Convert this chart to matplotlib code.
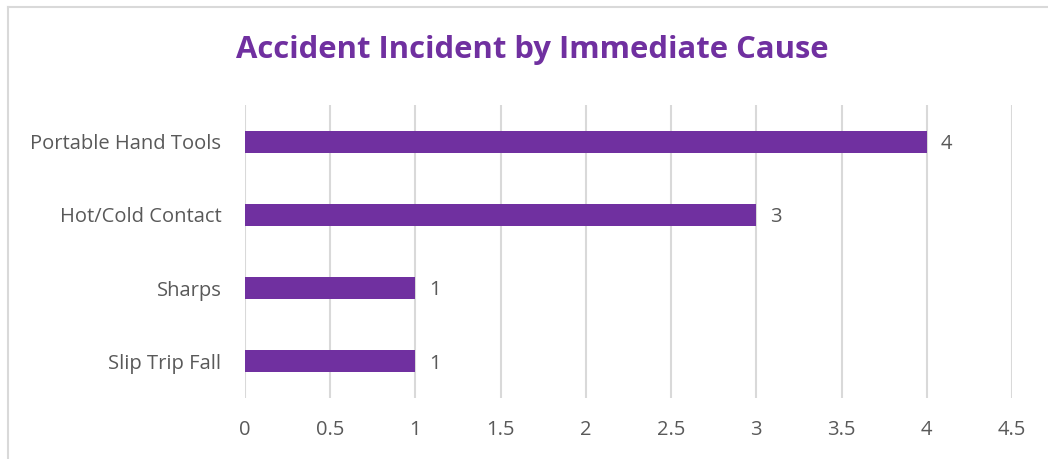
import matplotlib
matplotlib.use("Agg")
import matplotlib.pyplot as plt
from matplotlib.lines import Line2D

categories = ["Slip Trip Fall", "Sharps", "Hot/Cold Contact", "Portable Hand Tools"]
values = [1, 1, 3, 4]
xticks = [0, 0.5, 1, 1.5, 2, 2.5, 3, 3.5, 4, 4.5]
xtick_labels = ["0", "0.5", "1", "1.5", "2", "2.5", "3", "3.5", "4", "4.5"]
title = "Accident Incident by Immediate Cause"

purple = "#7030A0"
gray_text = "#595959"
grid_col = "#D9D9D9"

plt.rcParams['font.family'] = ['Open Sans', 'DejaVu Sans']

W, H = 1048, 459
fig = plt.figure(figsize=(W/100, H/100), dpi=100)
ax = fig.add_axes([245/W, 1-398/H, (1012-245)/W, (398-105)/H])

ypos = list(range(len(categories)))
ax.barh(ypos, values, height=0.3, color=purple, zorder=3)
for y, v in zip(ypos, values):
    ax.text(v + 0.08, y - 0.03, f"{v:g}", va="center", ha="left", fontsize=14.5, color=gray_text)

ax.set_xlim(0, 4.5)
ax.set_ylim(-0.5, len(categories) - 0.5)
ax.set_xticks(xticks)
ax.set_xticklabels(xtick_labels)
ax.set_yticks(ypos)
ax.set_yticklabels(categories)
ax.tick_params(axis="both", length=0, labelsize=14.5, colors=gray_text)
ax.tick_params(axis="x", pad=16)
ax.tick_params(axis="y", pad=17)
ax.grid(axis="x", color=grid_col, linewidth=1.5, zorder=0)
for s in ax.spines.values():
    s.set_visible(False)

fig.text(532/W, 1-50/H, title, ha="center", va="center", fontsize=22.3,
         fontweight="bold", color=purple)

fig.add_artist(Line2D([8/W, 8/W], [0, 1-7/H], color="#D9D9D9", linewidth=1.5, transform=fig.transFigure))
fig.add_artist(Line2D([8/W, 1], [1-7/H, 1-7/H], color="#D9D9D9", linewidth=1.5, transform=fig.transFigure))

fig.savefig("out.png", dpi=100)
